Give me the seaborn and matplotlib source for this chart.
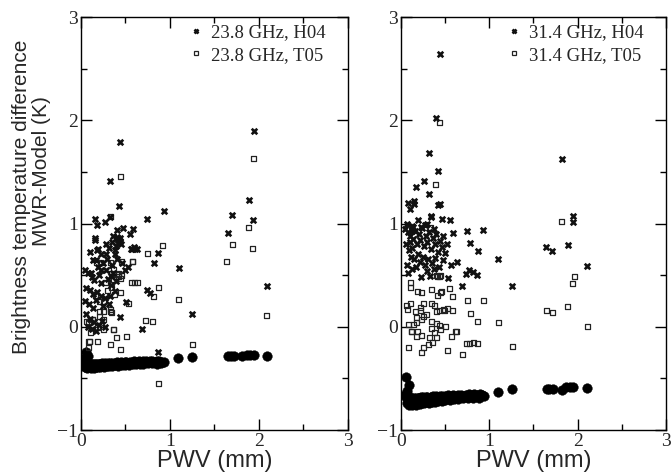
import seaborn as sns
import matplotlib.pyplot as plt
import pandas as pd
from matplotlib.lines import Line2D
from matplotlib.ticker import MultipleLocator

# ---- left panel: 23.8 GHz ----
h04_23_x = [0.44, 0.33, 0.43, 0.16, 0.18, 0.27, 0.33, 0.74, 0.93, 1.94, 1.89, 1.70, 1.93, 1.65,
            0.40, 0.47, 0.58, 0.55, 0.36, 0.44, 0.16, 0.41, 0.16, 0.28, 0.35, 0.39, 0.42, 0.45,
            0.38, 0.31, 0.57, 0.63, 0.60, 0.87, 0.82, 1.10, 2.09, 1.25, 0.44, 0.69, 0.87, 0.74,
            0.78, 0.51, 0.53, 0.10, 0.14, 0.22, 0.25, 0.19, 0.28, 0.35, 0.41, 0.46, 0.50, 0.08,
            0.12, 0.15, 0.20, 0.23, 0.30, 0.34, 0.06, 0.10, 0.14, 0.18, 0.22, 0.27, 0.33, 0.38,
            0.05, 0.09, 0.13, 0.17, 0.25, 0.31, 0.06, 0.10, 0.15, 0.20, 0.24, 0.08, 0.12, 0.17,
            0.27, 0.36, 0.39, 0.29, 0.18, 0.05, 0.43, 0.42, 0.44, 0.56, 0.61, 0.19, 0.28, 0.38,
            0.17, 0.11, 0.22, 0.34]
h04_23_y = [1.79, 1.41, 1.17, 1.04, 0.99, 1.01, 1.06, 1.04, 1.12, 1.90, 1.23, 1.08, 1.03, 0.91,
            0.94, 0.96, 0.95, 0.90, 0.88, 0.86, 0.86, 0.87, 0.84, 0.80, 0.82, 0.78, 0.85, 0.80,
            0.74, 0.76, 0.75, 0.75, 0.77, 0.71, 0.62, 0.57, 0.39, 0.12, 0.09, -0.02, -0.24, 0.36,
            0.33, 0.24, 0.58, 0.72, 0.65, 0.70, 0.62, 0.58, 0.55, 0.60, 0.66, 0.62, 0.55, 0.52,
            0.48, 0.45, 0.50, 0.42, 0.46, 0.40, 0.38, 0.36, 0.32, 0.34, 0.30, 0.28, 0.30, 0.35,
            0.25, 0.22, 0.18, 0.26, 0.20, 0.22, 0.12, 0.08, 0.05, 0.02, 0.06, 0.00, -0.02, -0.04,
            0.00, 0.52, 0.44, 0.66, 0.74, 0.55, 0.82, 0.84, 0.83, 0.75, 0.75, 0.75, 0.70, 0.70,
            0.65, 0.52, 0.55, 0.49]

t05_23_x = [0.44, 1.94, 1.88, 0.33, 0.92, 1.70, 1.93, 1.64, 1.10, 2.09, 1.25, 0.75, 0.87, 0.82,
            0.73, 0.80, 0.51, 0.40, 0.33, 0.44, 0.19, 0.09, 0.37, 0.87, 0.57, 0.60, 0.63, 0.53,
            0.58, 0.08, 0.34, 0.42, 0.06, 0.13, 0.19, 0.25, 0.11, 0.36, 0.10, 0.21, 0.25, 0.33,
            0.34, 0.25, 0.44, 0.38, 0.21, 0.42, 0.45, 0.34, 0.27, 0.17, 0.22, 0.33, 0.36, 0.42,
            0.37, 0.46, 0.58, 0.44, 0.25, 0.33, 0.21, 0.13, 0.08, 0.16, 0.30]
t05_23_y = [1.46, 1.63, 0.96, 1.07, 0.79, 0.80, 0.76, 0.63, 0.26, 0.11, -0.17, 0.71, 0.38, 0.29,
            0.06, 0.05, -0.09, -0.10, -0.17, -0.22, -0.14, -0.14, -0.03, -0.55, 0.43, 0.43, 0.43, 0.23,
            0.63, -0.20, 0.52, 0.51, 0.05, 0.07, -0.01, -0.03, -0.06, -0.03, -0.14, 0.10, 0.07, 0.15,
            0.14, 0.15, 0.33, 0.31, 0.24, 0.49, 0.50, 0.38, 0.43, 0.62, 0.62, 0.62, 0.55, 0.52,
            0.46, 0.63, 0.63, 0.47, 0.24, 0.17, 0.15, 0.07, 0.04, 0.30, 0.35]

fit_23_x = [0.04, 0.05, 0.06, 0.07, 0.08, 0.09, 0.10, 0.11, 0.12, 0.13, 0.14, 0.15, 0.16, 0.17,
            0.18, 0.19, 0.20, 0.21, 0.22, 0.23, 0.24, 0.25, 0.27, 0.28, 0.30, 0.31, 0.33, 0.35,
            0.36, 0.38, 0.40, 0.41, 0.43, 0.45, 0.47, 0.49, 0.51, 0.53, 0.55, 0.58, 0.60, 0.63,
            0.65, 0.68, 0.70, 0.73, 0.75, 0.78, 0.80, 0.83, 0.85, 0.88, 0.90, 0.93,
            0.05, 0.07, 0.09, 0.11, 0.13, 0.15, 0.17, 0.19, 0.21, 0.23, 0.26, 0.29, 0.32, 0.35,
            0.38, 0.42, 0.46, 0.50, 0.54, 0.58, 0.62, 0.66, 0.70, 0.75, 0.80, 0.85, 0.90,
            0.06, 0.08, 0.05, 1.09, 1.25, 1.65, 1.68, 1.72, 1.81, 1.86, 1.90, 1.94, 2.09]
fit_23_y = [-0.33, -0.35, -0.34, -0.36, -0.35, -0.37, -0.36, -0.37, -0.36, -0.37, -0.36, -0.37, -0.36, -0.36,
            -0.37, -0.36, -0.36, -0.37, -0.36, -0.36, -0.35, -0.36, -0.35, -0.36, -0.35, -0.36, -0.35, -0.35,
            -0.36, -0.35, -0.35, -0.34, -0.35, -0.34, -0.35, -0.34, -0.34, -0.35, -0.34, -0.34, -0.33, -0.34,
            -0.33, -0.34, -0.33, -0.33, -0.34, -0.33, -0.33, -0.34, -0.33, -0.33, -0.34, -0.34,
            -0.39, -0.40, -0.39, -0.40, -0.39, -0.40, -0.39, -0.39, -0.39, -0.38, -0.39, -0.38, -0.38, -0.38,
            -0.37, -0.38, -0.37, -0.37, -0.37, -0.36, -0.36, -0.36, -0.36, -0.35, -0.35, -0.36, -0.35,
            -0.24, -0.28, -0.30, -0.30, -0.29, -0.28, -0.28, -0.28, -0.28, -0.27, -0.27, -0.27, -0.28]

# ---- right panel: 31.4 GHz ----
h04_31_x = [0.44, 0.40, 0.32, 0.42, 0.26, 0.17, 0.32, 0.08, 0.15, 0.10, 0.15, 0.42, 0.44, 0.34,
            0.46, 0.55, 0.19, 1.82, 1.95, 1.95, 0.75, 0.93, 0.59, 1.64, 1.71, 1.89, 2.11, 1.10,
            1.26, 0.87, 0.78, 0.77, 0.82, 0.86, 0.74, 0.63, 0.57, 0.69, 0.53, 0.23, 0.33, 0.50,
            0.08, 0.05, 0.08, 0.10, 0.12, 0.14, 0.16, 0.18, 0.20, 0.22, 0.24, 0.26, 0.28, 0.30,
            0.32, 0.34, 0.36, 0.38, 0.40, 0.42, 0.44, 0.46, 0.48, 0.52, 0.06, 0.09, 0.11, 0.13,
            0.15, 0.19, 0.21, 0.25, 0.27, 0.31, 0.35, 0.39, 0.43, 0.47, 0.07, 0.12, 0.17, 0.29,
            0.37, 0.07, 0.13, 0.23, 0.29, 0.37, 0.10, 0.27, 0.12, 0.14, 0.34]
h04_31_y = [2.64, 2.02, 1.68, 1.51, 1.41, 1.35, 1.29, 1.20, 1.22, 1.14, 1.19, 1.18, 1.19, 1.07,
            1.04, 1.03, 1.03, 1.62, 1.07, 1.01, 0.93, 0.94, 0.91, 0.77, 0.73, 0.79, 0.59, 0.66,
            0.39, 0.73, 0.81, 0.55, 0.53, 0.50, 0.51, 0.63, 0.60, 0.39, 0.47, 0.48, 0.49, 0.71,
            0.52, 0.95, 0.92, 0.88, 0.98, 0.85, 0.93, 0.80, 0.90, 0.84, 0.96, 0.78, 0.88, 0.82,
            0.92, 0.75, 0.86, 0.80, 0.90, 0.72, 0.83, 0.77, 0.88, 0.80, 0.80, 0.74, 0.68, 0.76,
            0.66, 0.70, 0.63, 0.68, 0.60, 0.66, 0.62, 0.67, 0.58, 0.65, 0.60, 0.56, 0.58, 0.54,
            0.56, 1.00, 0.93, 0.97, 1.00, 0.95, 0.82, 0.99, 0.94, 0.97, 1.06]

t05_31_x = [0.44, 0.39, 1.82, 0.33, 1.96, 1.94, 1.89, 1.65, 1.71, 2.11, 1.10, 1.26, 0.93, 0.75,
            0.79, 0.87, 0.74, 0.78, 0.82, 0.87, 0.70, 0.53, 0.63, 0.57, 0.09, 0.23, 0.26, 0.31,
            0.36, 0.32, 0.40, 0.18, 0.12, 0.44, 0.41, 0.55, 0.58, 0.46, 0.35, 0.48, 0.53, 0.58,
            0.11, 0.11, 0.19, 0.23, 0.45, 0.41, 0.06, 0.11, 0.22, 0.26, 0.34, 0.38, 0.07, 0.16,
            0.22, 0.29, 0.25, 0.40, 0.44, 0.49, 0.18, 0.23, 0.08, 0.14, 0.17, 0.34, 0.40, 0.44,
            0.50, 0.12, 0.19, 0.23, 0.34, 0.38, 0.45, 0.62, 0.40, 0.45]
t05_31_y = [1.98, 1.38, 1.02, 0.96, 0.49, 0.42, 0.20, 0.16, 0.14, 0.00, 0.04, -0.19, 0.25, 0.25,
            0.13, 0.05, -0.16, -0.16, -0.15, -0.16, -0.27, -0.23, -0.05, -0.09, -0.20, -0.25, -0.20, -0.17,
            -0.15, -0.10, -0.10, -0.09, -0.05, 0.49, 0.49, 0.37, 0.29, 0.34, 0.36, 0.17, 0.18, 0.16,
            0.43, 0.38, 0.34, 0.33, 0.33, 0.30, 0.21, 0.23, 0.19, 0.23, 0.23, 0.21, 0.17, 0.15,
            0.16, 0.12, 0.10, 0.15, 0.16, 0.16, 0.09, 0.07, 0.02, 0.02, 0.04, 0.05, 0.03, 0.01,
            0.00, -0.05, -0.05, -0.08, -0.02, -0.06, -0.03, -0.05, 0.50, 0.50]

fit_31_x = [0.05, 0.06, 0.07, 0.08, 0.09, 0.10, 0.11, 0.12, 0.13, 0.14, 0.15, 0.16, 0.17, 0.18,
            0.19, 0.20, 0.21, 0.22, 0.23, 0.24, 0.25, 0.26, 0.28, 0.30, 0.32, 0.34, 0.36, 0.38,
            0.40, 0.42, 0.44, 0.46, 0.48, 0.50, 0.53, 0.56, 0.59, 0.62, 0.65, 0.68, 0.71, 0.74,
            0.77, 0.80, 0.83, 0.86, 0.89, 0.92, 0.94,
            0.07, 0.09, 0.11, 0.13, 0.15, 0.17, 0.19, 0.21, 0.23, 0.26, 0.29, 0.32, 0.35, 0.38,
            0.42, 0.46, 0.50, 0.55, 0.60, 0.65, 0.70, 0.76, 0.82, 0.88,
            0.06, 0.09, 0.07, 1.10, 1.26, 1.65, 1.68, 1.72, 1.82, 1.87, 1.91, 1.95, 2.11]
fit_31_y = [-0.66, -0.68, -0.67, -0.69, -0.68, -0.70, -0.69, -0.70, -0.69, -0.70, -0.69, -0.70, -0.69, -0.70,
            -0.69, -0.69, -0.70, -0.69, -0.68, -0.69, -0.68, -0.69, -0.68, -0.68, -0.69, -0.68, -0.67, -0.68,
            -0.67, -0.68, -0.67, -0.67, -0.68, -0.67, -0.66, -0.67, -0.66, -0.67, -0.66, -0.66, -0.67, -0.66,
            -0.65, -0.66, -0.65, -0.66, -0.65, -0.66, -0.67,
            -0.74, -0.76, -0.75, -0.76, -0.75, -0.76, -0.74, -0.75, -0.74, -0.74, -0.73, -0.74, -0.73, -0.73,
            -0.72, -0.72, -0.71, -0.71, -0.70, -0.70, -0.69, -0.69, -0.69, -0.69,
            -0.49, -0.56, -0.62, -0.63, -0.60, -0.60, -0.60, -0.60, -0.61, -0.58, -0.58, -0.58, -0.59]

panels = [
    ("23.8 GHz", h04_23_x, h04_23_y, t05_23_x, t05_23_y, fit_23_x, fit_23_y),
    ("31.4 GHz", h04_31_x, h04_31_y, t05_31_x, t05_31_y, fit_31_x, fit_31_y),
]

sns.set_style("ticks")
plt.rcParams['font.family'] = ['Liberation Serif', 'DejaVu Serif']

fig = plt.figure(figsize=(6.71, 4.75), dpi=100)
ax_l = fig.add_axes([0.1207, 0.0947, 0.3979, 0.8695])
ax_r = fig.add_axes([0.5976, 0.0947, 0.3949, 0.8695])

for ax, (freq, hx, hy, tx, ty, fx, fy) in zip([ax_l, ax_r], panels):
    df_h = pd.DataFrame({"PWV": hx, "dTb": hy})
    df_t = pd.DataFrame({"PWV": tx, "dTb": ty})
    df_f = pd.DataFrame({"PWV": fx, "dTb": fy})
    sns.scatterplot(data=df_f, x="PWV", y="dTb", ax=ax, marker="o", s=48,
                    color="black", edgecolor="black", linewidth=0.3, legend=False)
    sns.scatterplot(data=df_t, x="PWV", y="dTb", ax=ax, marker="s", s=13,
                    facecolor="none", edgecolor="#222222", linewidth=0.9, legend=False)
    sns.scatterplot(data=df_h, x="PWV", y="dTb", ax=ax, marker="x", s=16,
                    color="#111111", linewidth=1.9, legend=False)

    ax.set_xlim(0, 3)
    ax.set_ylim(-1, 3)
    ax.xaxis.set_major_locator(MultipleLocator(1))
    ax.xaxis.set_minor_locator(MultipleLocator(0.5))
    ax.yaxis.set_major_locator(MultipleLocator(1))
    ax.yaxis.set_minor_locator(MultipleLocator(0.5))
    ax.tick_params(which="both", direction="in", top=True, right=True, width=1,
                   color="black", labelsize=14, pad=2)
    ax.tick_params(which="major", length=8)
    ax.tick_params(which="minor", length=4)
    for sp in ax.spines.values():
        sp.set_color("black")
        sp.set_linewidth(1)
    ax.set_xlabel("PWV (mm)", family="Liberation Sans", fontsize=17, labelpad=0)
    ax.set_ylabel("")

    handles = [
        Line2D([], [], linestyle="none", marker="x", markersize=3.5, markeredgewidth=1.9,
               color="#111111", label=f"{freq}, H04"),
        Line2D([], [], linestyle="none", marker="s", markersize=3.5, markeredgewidth=0.9,
               markerfacecolor="none", markeredgecolor="#222222", label=f"{freq}, T05"),
    ]
    ax.legend(handles=handles, loc="upper right", frameon=False, fontsize=13.5,
              handlelength=0.8, handletextpad=0.4, labelspacing=0.3,
              borderaxespad=0.2, bbox_to_anchor=(0.96, 1.01))

# two-line y label, lines placed as in the reference
fig.text(22 / 671, 1 - 197 / 475, "Brightness temperature difference",
         family="Liberation Sans", fontsize=15, rotation=90, ha="center", va="center")
fig.text(42 / 671, 1 - 171 / 475, "MWR-Model (K)",
         family="Liberation Sans", fontsize=15, rotation=90, ha="center", va="center")

fig.savefig("out.png", dpi=100)
